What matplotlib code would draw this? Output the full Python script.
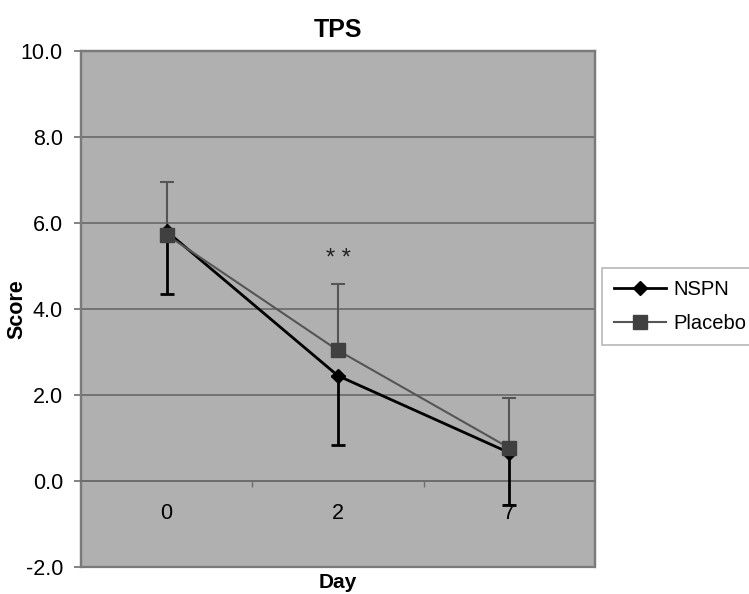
import matplotlib
matplotlib.use("Agg")
import matplotlib.pyplot as plt
import numpy as np

plt.rcParams['font.family'] = ['Liberation Sans', 'DejaVu Sans']

days = ["0", "2", "7"]
nspn = [5.8, 2.44, 0.65]
nspn_err_low = [1.46, 1.60, 1.21]
placebo = [5.72, 3.03, 0.76]
placebo_err_high = [1.23, 1.54, 1.16]
yticks = [-2.0, 0.0, 2.0, 4.0, 6.0, 8.0, 10.0]
star_label = "* *"
star_pos = (1, 5.15)

fig = plt.figure(figsize=(7.49, 5.94), dpi=100)
ax = fig.add_axes([0.1081, 0.046, 0.6863, 0.8686])
bg = '#b0b0b0'
edge = '#7a7a7a'
ax.set_facecolor(bg)
ax.patch.set_edgecolor(edge)
ax.patch.set_linewidth(1.6)

x = np.arange(len(days))
ax.set_xlim(-0.5, len(days) - 0.5)
ax.set_ylim(yticks[0], yticks[-1])

for y in yticks[1:-1]:
    ax.axhline(y, color='#6e6e6e', lw=1.3, zorder=1)

# error bars
ax.errorbar(x, placebo, yerr=[np.zeros(3), placebo_err_high], fmt='none',
            ecolor='#555555', elinewidth=1.5, capsize=5, capthick=1.5, zorder=3)
ax.errorbar(x, nspn, yerr=[nspn_err_low, np.zeros(3)], fmt='none',
            ecolor='black', elinewidth=2, capsize=5, capthick=2, zorder=3)

ax.plot(x, nspn, color='black', lw=2, marker='D', markersize=7,
        markerfacecolor='black', markeredgecolor='black', label='NSPN', zorder=4)
ax.plot(x, placebo, color='#555555', lw=1.5, marker='s', markersize=10,
        markerfacecolor='#404040', markeredgecolor='#404040', label='Placebo', zorder=5)

ax.text(star_pos[0], star_pos[1], star_label, ha='center', va='center',
        fontsize=17, color='#222222')

for s in ['left', 'right', 'top']:
    ax.spines[s].set_color(edge)
    ax.spines[s].set_linewidth(1.6)
ax.spines['bottom'].set_position(('data', 0))
ax.spines['bottom'].set_color('#6e6e6e')
ax.spines['bottom'].set_linewidth(1.3)

ax.set_xticks(x)
ax.set_xticklabels(days)
ax.set_xticks([0.5, 1.5], minor=True)
ax.tick_params(axis='x', which='major', length=0, pad=16, labelsize=15.5)
ax.tick_params(axis='x', which='minor', length=4, color='#6e6e6e', width=1, direction='out')

ax.set_yticks(yticks)
ax.set_yticklabels([f"{v:.1f}" for v in yticks])
ax.tick_params(axis='y', length=5, color=edge, width=1.3, pad=8, labelsize=15.5)

ax.set_title("TPS", fontsize=18, fontweight='bold', pad=10)
ax.set_ylabel("Score", fontsize=15.5, fontweight='bold', va='center')
ax.yaxis.set_label_coords(-0.1245, 0.5)
fig.text(0.4513, 0.02, "Day", ha='center', va='center', fontsize=15, fontweight='bold')

leg = fig.legend(loc='upper left', bbox_to_anchor=(0.8034, 0.5493), fontsize=14.5,
                 frameon=True, fancybox=False, edgecolor='#b8b8b8', framealpha=1,
                 handlelength=2.6, handletextpad=0.35, labelspacing=0.75,
                 borderpad=0.6, borderaxespad=0)
leg.get_frame().set_linewidth(1.2)

fig.savefig("out.png", dpi=100)
